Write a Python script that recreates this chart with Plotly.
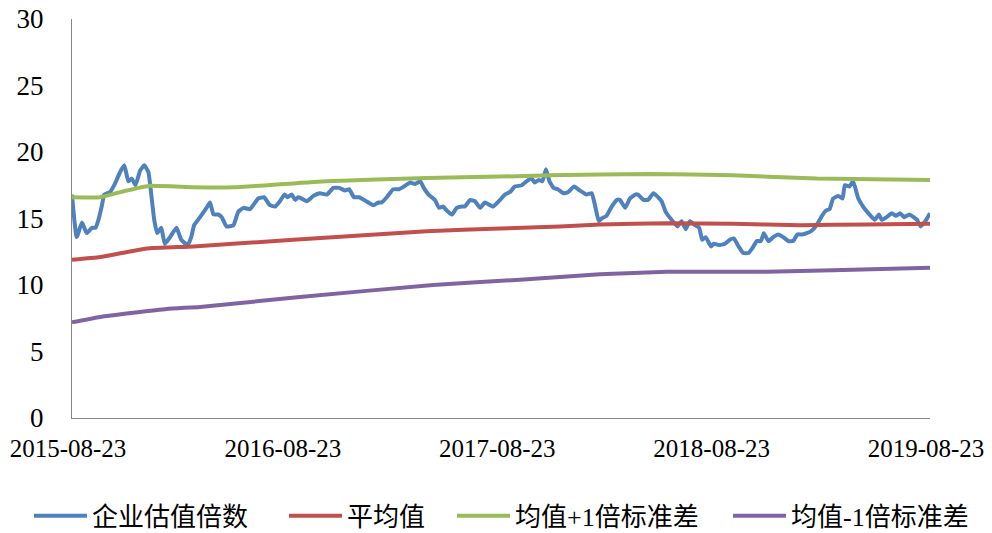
import pandas as pd
import plotly.graph_objects as go

start = pd.Timestamp("2015-08-23")

# 企业估值倍数 (days since 2015-08-23, value)
ev_days = [0, 8, 17, 25, 34, 40, 45, 51, 55, 65, 73, 82, 89, 96, 102, 108, 116, 123, 130, 136,
           140, 145, 152, 158, 167, 178, 186, 197, 203, 208, 218, 229, 235, 241, 249, 255, 263,
           275, 283, 292, 303, 317, 327, 337, 346, 354, 362, 367, 374, 380, 385, 391, 400, 411,
           422, 434, 445, 455, 465, 472, 480, 489, 501, 513, 522, 527, 536, 547, 557, 565, 576,
           584, 593, 599, 607, 618, 625, 632, 638, 647, 655, 664, 669, 678, 686, 695, 703, 717,
           729, 737, 746, 754, 766, 777, 783, 788, 795, 801, 807, 813, 820, 827, 837, 845, 855,
           865, 876, 885, 891, 897, 902, 910, 919, 928, 933, 942, 950, 959, 964, 973, 981, 990,
           998, 1004, 1011, 1021, 1031, 1038, 1045, 1052, 1061, 1068, 1073, 1079, 1088, 1093,
           1101, 1112, 1120, 1127, 1135, 1143, 1152, 1159, 1166, 1173, 1178, 1186, 1194, 1203,
           1211, 1220, 1228, 1235, 1243, 1251, 1260, 1268, 1277, 1284, 1290, 1296, 1305, 1312,
           1316, 1324, 1330, 1339, 1347, 1356, 1367, 1374, 1379, 1387, 1396, 1403, 1410, 1417,
           1426, 1433, 1439, 1445, 1453, 1461]
ev_vals = [16.8, 13.6, 14.7, 13.9, 14.3, 14.3, 14.9, 16.0, 16.8, 17.0, 17.6, 18.5, 19.0, 17.8,
           18.0, 17.5, 18.6, 19.0, 18.5, 16.4, 14.9, 13.9, 14.3, 13.1, 13.6, 14.3, 13.4, 13.0,
           13.6, 14.5, 15.1, 15.8, 16.2, 15.3, 15.3, 15.1, 14.4, 14.5, 15.5, 15.8, 15.7, 16.5,
           16.6, 16.0, 15.9, 16.3, 16.8, 16.6, 16.8, 16.4, 16.6, 16.5, 16.3, 16.7, 16.9, 16.8,
           17.3, 17.3, 17.1, 17.2, 16.6, 16.6, 16.3, 16.0, 16.2, 16.2, 16.6, 17.2, 17.2, 17.4,
           17.7, 17.6, 17.8, 17.3, 16.8, 16.4, 15.8, 15.9, 15.6, 15.3, 15.8, 15.9, 15.9, 16.4,
           16.3, 15.8, 16.2, 15.9, 16.4, 16.8, 17.0, 17.4, 17.5, 17.9, 18.0, 17.7, 17.9, 17.8,
           18.7, 17.8, 17.3, 17.2, 16.9, 17.0, 17.4, 17.1, 16.8, 16.9, 15.9, 14.8, 15.0, 15.2,
           15.9, 16.4, 16.4, 15.8, 16.5, 16.8, 16.8, 16.4, 16.4, 16.9, 16.6, 16.3, 15.5, 14.9,
           14.4, 14.8, 14.2, 14.8, 14.5, 14.3, 13.4, 13.6, 12.9, 13.1, 13.0, 13.1, 13.4, 13.5,
           12.9, 12.4, 12.4, 12.8, 13.3, 13.3, 13.9, 13.3, 13.6, 13.8, 13.6, 13.3, 13.3, 13.8,
           13.8, 13.9, 14.1, 14.5, 15.2, 15.6, 15.7, 16.5, 16.7, 16.5, 17.5, 17.4, 17.8, 16.5,
           15.9, 15.4, 14.9, 15.3, 14.9, 15.1, 15.4, 15.2, 15.4, 15.1, 15.3, 15.1, 14.9, 14.4,
           14.8, 15.4]

# 平均值
mean_days = [0, 48, 127, 207, 377, 604, 729, 831, 899, 1013, 1126, 1240, 1353, 1461]
mean_vals = [11.9, 12.1, 12.75, 12.9, 13.4, 14.05, 14.25, 14.4, 14.55, 14.65, 14.6, 14.5, 14.55, 14.6]

# 均值+1倍标准差
up_days = [0, 48, 93, 130, 207, 275, 434, 604, 729, 814, 984, 1126, 1268, 1461]
up_vals = [16.6, 16.6, 17.1, 17.45, 17.35, 17.35, 17.8, 18.05, 18.15, 18.25, 18.35, 18.25, 18.0, 17.9]

# 均值-1倍标准差
low_days = [0, 48, 161, 218, 388, 615, 763, 899, 1013, 1183, 1296, 1461]
low_vals = [7.2, 7.6, 8.2, 8.35, 9.1, 10.0, 10.4, 10.8, 11.0, 11.0, 11.1, 11.3]

tick_labels = ["2015-08-23", "2016-08-23", "2017-08-23", "2018-08-23", "2019-08-23"]


def to_dates(days):
    return start + pd.to_timedelta(days, unit="D")


fig = go.Figure()
series = [
    ("企业估值倍数", ev_days, ev_vals, "#4F81BD", "legend", -0.0501, -0.245),
    ("平均值", mean_days, mean_vals, "#C0504D", "legend2", 0.2471, -0.245),
    ("均值+1倍标准差", up_days, up_vals, "#9BBB59", "legend3", 0.4429, -0.245),
    ("均值-1倍标准差", low_days, low_vals, "#8064A2", "legend4", 0.7646, -0.245),
]
legend_layout = {}
for name, d, v, c, lg, lx, ly in series:
    fig.add_trace(go.Scatter(
        x=to_dates(d), y=v, mode="lines", name=name, legend=lg,
        line=dict(color=c, width=4, shape="spline", smoothing=0.4),
    ))
    legend_layout[lg] = dict(
        orientation="h", x=lx, xanchor="left", y=ly, yanchor="middle",
        font=dict(family="Liberation Serif, Noto Sans CJK SC", size=26),
        itemwidth=53, bgcolor="rgba(0,0,0,0)",
    )

fig.update_layout(
    width=984, height=525,
    margin=dict(l=64, r=62, t=11, b=115, autoexpand=False),
    paper_bgcolor="white", plot_bgcolor="white",
    font=dict(family="Liberation Serif, Times New Roman, serif", size=26, color="black"),
    showlegend=True,
    **legend_layout,
)
fig.update_xaxes(
    type="date",
    range=[start, pd.Timestamp(tick_labels[-1])],
    tickmode="array",
    tickvals=pd.to_datetime(tick_labels),
    ticktext=tick_labels,
    showgrid=False, zeroline=False, automargin=False,
    showline=True, linecolor="#868686", linewidth=1,
    ticks="", ticklabelstandoff=8, ticklabeloverflow="allow", ticklabelshift=-4,
    tickfont=dict(size=25),
)
fig.update_yaxes(
    range=[0, 30], tickvals=[0, 5, 10, 15, 20, 25, 30],
    showgrid=False, zeroline=False, automargin=False,
    showline=True, linecolor="#868686", linewidth=1,
    ticks="", ticklabelstandoff=22, ticklabeloverflow="allow",
    tickfont=dict(size=27),
)

fig.write_html("out.html")
